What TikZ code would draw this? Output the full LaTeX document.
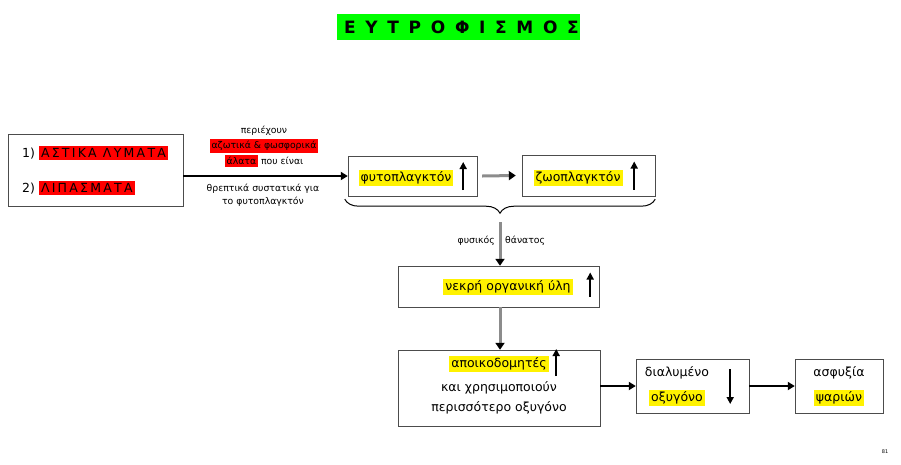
\documentclass[tikz,border=0pt]{standalone}
\usepackage{fontspec}
\setmainfont{DejaVu Sans}
\usetikzlibrary{arrows.meta,decorations.pathreplacing,positioning}

\tikzset{
	box/.style={draw=black!70, fill=white, inner sep=0pt},
	bigarrow/.style={line width=2pt, -{Triangle[length=7pt,width=8pt]}},
	grayarrow/.style={line width=3pt, black!45, -{Triangle[length=7pt,width=9pt,color=black]}},
	uparrow/.style={line width=2.2pt, -{Triangle[length=7pt,width=7pt]}},
	small/.style={font=\fontsize{9.3}{11}\selectfont, inner sep=1pt},
	txt/.style={font=\fontsize{12.5}{14}\selectfont, inner sep=1pt},
}
\newcommand{\hly}[1]{{\setlength{\fboxsep}{2pt}\colorbox{yellow}{#1}}}
\newcommand{\hlr}[1]{{\setlength{\fboxsep}{2pt}\colorbox{red}{#1}}}

\begin{document}
\begin{tikzpicture}[x=1pt,y=-1pt]

	\useasboundingbox[fill=white] (0,0) rectangle (901,464);

	% title
	\node[fill=green, minimum width=243pt, minimum height=26pt, inner sep=0pt,
		font=\fontsize{17}{18}\selectfont\bfseries] (titlos) at (458.5,27) {};
	\node[font=\fontsize{17}{18}\selectfont\bfseries\addfontfeature{LetterSpace=57}, inner sep=0pt]
		(titlost) at (titlos) {\hspace{6pt}ΕΥΤΡΟΦΙΣΜΟΣ\hspace{-4pt}};

	% boxes
	\node[box, minimum width=175pt, minimum height=72pt] (pigi) at (95.5,170) {};
	\node[box, minimum width=129pt, minimum height=40pt] (fyto) at (412.5,176) {};
	\node[box, minimum width=133pt, minimum height=41pt] (zoo) at (588.5,175.5) {};
	\node[box, minimum width=201pt, minimum height=41pt] (nekri) at (498.5,286.5) {};
	\node[box, minimum width=202pt, minimum height=76pt] (apoik) at (499,388) {};
	\node[box, minimum width=113pt, minimum height=54pt] (oxyg) at (692.5,386) {};
	\node[box, minimum width=88pt, minimum height=54pt] (asfy) at (839,386) {};

	% sources
	\node[txt, anchor=west] (lymata) at (21,153) {1) \hlr{\addfontfeature{LetterSpace=18}ΑΣΤΙΚΑ ΛΥΜΑΤΑ}};
	\node[txt, anchor=west] (lipasm) at (21,188) {2) \hlr{\addfontfeature{LetterSpace=18}ΛΙΠΑΣΜΑΤΑ}};

	% texts on the main arrow
	\node[small] (perie) at (264,131) {περιέχουν};
	\node[small] (azot) at (264,146) {\hlr{αζωτικά \& φωσφορικά}};
	\node[small] (alata) at (264,161) {\hlr{άλατα} που είναι};
	\node[small] (threp) at (263,189) {θρεπτικά συστατικά για};
	\node[small] (tofyt) at (263,202) {το φυτοπλαγκτόν};

	% box texts
	\node[txt] (fytot) at (406,178) {\hly{φυτοπλαγκτόν}};
	\node[txt] (zoot) at (578,178) {\hly{ζωοπλαγκτόν}};
	\node[txt] (nekrit) at (508,287) {\hly{νεκρή οργανική ύλη}};
	\node[txt] (apoit) at (499,364) {\hly{αποικοδομητές}};
	\node[txt] (xrisi) at (499,388) {και χρησιμοποιούν};
	\node[txt] (peris) at (499,408) {περισσότερο οξυγόνο};
	\node[txt] (dial) at (677,373) {διαλυμένο};
	\node[txt] (oxygt) at (677,398) {\hly{οξυγόνο}};
	\node[txt] (asfyt) at (839,373) {ασφυξία};
	\node[txt] (psari) at (839,398) {\hly{ψαριών}};

	% up and down arrows in the boxes
	\draw[uparrow] (fyto.east) ++(-14,14) -- ++(0,-28);
	\draw[uparrow] (zoo.east) ++(-21,14) -- ++(0,-28);
	\draw[uparrow] (nekri.east) ++(-9,10) -- ++(0,-24);
	\draw[uparrow] (apoik.east) ++(-44,-12) -- ++(0,-27);
	\draw[uparrow] (oxyg.east) ++(-19,-17) -- ++(0,35);

	% connectors
	\draw[bigarrow] (pigi.east |- fyto.west) -- (fyto.west);
	\draw[grayarrow] ([xshift=5pt]fyto.east) -- ([xshift=-6pt]zoo.west);
	\draw[decorate, decoration={brace, mirror, amplitude=14pt}, line width=1pt]
		([xshift=-3pt,yshift=-3pt]fyto.south west) -- ([yshift=-3pt]zoo.south east);
	\coordinate (korifi) at (500,222);
	\draw[grayarrow] (korifi) -- (nekri.north -| korifi);
	\node[small, anchor=east] (fysik) at (496,241) {φυσικός};
	\node[small, anchor=west] (thanat) at (504,241) {θάνατος};
	\draw[grayarrow] (nekri.south -| korifi) -- (apoik.north -| korifi);
	\draw[bigarrow] (apoik.east |- oxyg.west) -- (oxyg.west);
	\draw[bigarrow] (oxyg.east) -- (asfy.west);

	\node[font=\fontsize{5}{6}\selectfont] (selida) at (885,452) {81};

\end{tikzpicture}
\end{document}
